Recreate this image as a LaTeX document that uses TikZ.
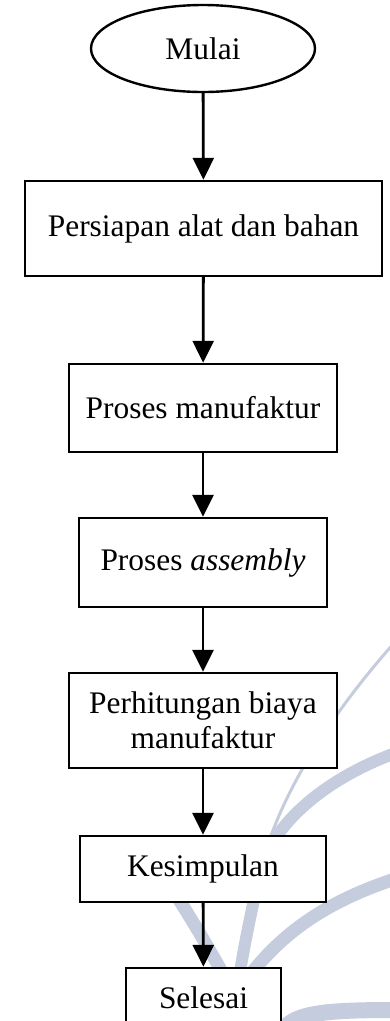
\documentclass[tikz,border=0pt]{standalone}
\usepackage{fontspec}
\setmainfont{Liberation Serif}
\usetikzlibrary{arrows.meta,shapes.geometric}
\definecolor{wm}{RGB}{196,204,222}
\tikzset{
  stepbox/.style={draw=black,line width=2.4pt,fill=white,inner sep=0pt,align=center,
    font=\fontsize{31.4}{35}\selectfont},
  startnode/.style={stepbox,ellipse},
  flow/.style={line width=2.8pt,-{Triangle[width=21pt,length=22pt]}},
  wmline/.style={draw=wm,line cap=round}
}
\begin{document}
\begin{tikzpicture}[x=1pt,y=-1pt]
\useasboundingbox (0,0) rectangle (390,1021);
\clip (0,0) rectangle (390,1021);
\fill[white] (0,0) rectangle (390,1021);
% watermark
\draw[wmline,line width=3pt] (395,642) .. controls (330,715) and (275,800) .. (258,880);
\draw[wmline,line width=12pt] (258,880) .. controls (250,920) and (240,960) .. (232,1030);
\draw[wmline,line width=12pt] (398,752) .. controls (335,775) and (290,810) .. (268,850);
\draw[wmline,line width=13pt] (398,878) .. controls (330,900) and (285,930) .. (250,975);
\draw[wmline,line width=13pt] (178,898) .. controls (195,925) and (210,950) .. (232,990);
\draw[wmline,line width=16pt] (283,1030) .. controls (295,1012) and (330,1010) .. (398,1010);
% nodes
\node[startnode,minimum width=224pt,minimum height=87pt] (start) at (203,48.5) {Mulai};
\node[stepbox,minimum width=357pt,minimum height=95pt] (b1) at (203.5,228.5) {Persiapan alat dan bahan};
\node[stepbox,minimum width=268pt,minimum height=88pt] (b2) at (203,408) {Proses manufaktur};
\node[stepbox,minimum width=248pt,minimum height=89pt] (b3) at (203,562.5) {Proses \textit{assembly}};
\node[stepbox,minimum width=268pt,minimum height=95pt] (b4) at (203,720.5) {Perhitungan biaya\\manufaktur};
\node[stepbox,minimum width=246pt,minimum height=66pt] (b5) at (203,869) {Kesimpulan};
\node[stepbox,minimum width=155pt,minimum height=60pt] (b6) at (203.5,998) {Selesai};
% connectors
\draw[flow] (start) -- (b1);
\draw[flow] (b1) -- (b2);
\draw[flow] (b2) -- (b3);
\draw[flow] (b3) -- (b4);
\draw[flow] (b4) -- (b5);
\draw[flow] (b5) -- (b6);
\end{tikzpicture}
\end{document}
